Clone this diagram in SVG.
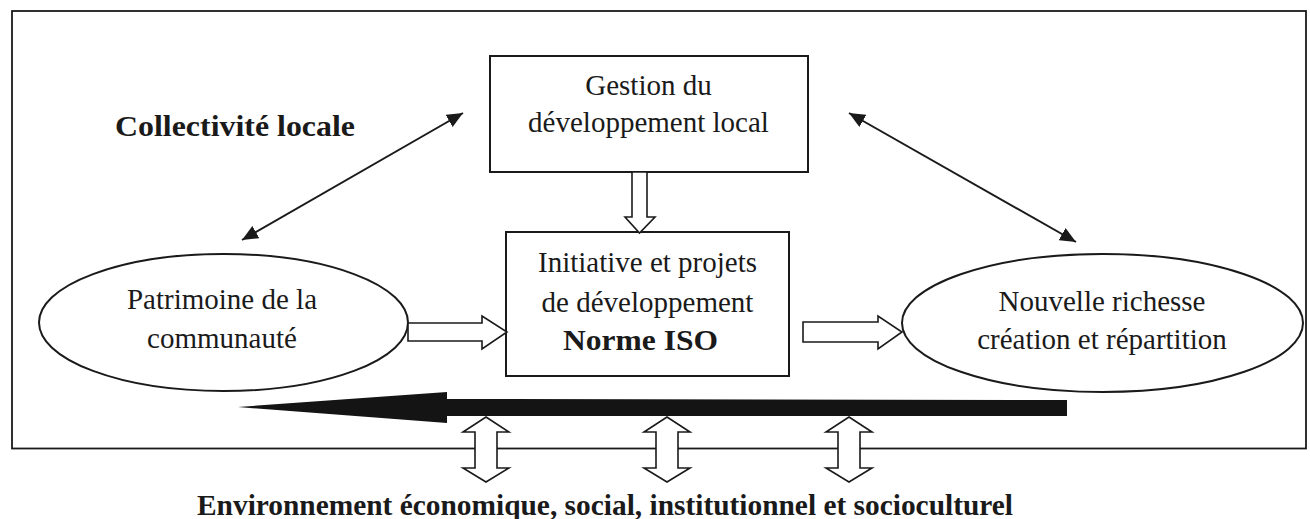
<svg xmlns="http://www.w3.org/2000/svg" width="1310" height="519" viewBox="0 0 1310 519">
<style>
  text { font-family: 'Liberation Serif', 'DejaVu Serif', serif; }
  .t { font-size: 29px; fill: #1a1a1a; text-anchor: middle; }
  .b { font-weight: bold; }
  .box { fill: #fff; stroke: #1a1a1a; stroke-width: 2; }
  .hollow { fill: #fff; stroke: #1a1a1a; stroke-width: 1.6; stroke-linejoin: miter; }
  .line { stroke: #1a1a1a; stroke-width: 2; fill: none; }
</style>
<defs>
  <marker id="tri2" viewBox="0 0 16 14" refX="16" refY="7" markerWidth="16" markerHeight="14" markerUnits="userSpaceOnUse" orient="auto-start-reverse">
    <path d="M0,0 L16,7 L0,14 z" fill="#1a1a1a"/>
  </marker>
</defs>
<rect x="0" y="0" width="1310" height="519" fill="#fff"/>
<g font-family="Liberation Serif, serif">
<g id="frame">
  <rect x="12" y="11" width="1294" height="437.5" fill="none" stroke="#1a1a1a" stroke-width="1.8"/>
  <text class="t b" x="235" y="136" font-size="34" textLength="240" lengthAdjust="spacingAndGlyphs">Collectivité locale</text>
</g>
<g id="gestion">
  <rect class="box" x="490" y="56" width="318" height="116"/>
  <text class="t" x="648.5" y="95">Gestion du</text>
  <text class="t" x="648.5" y="132">développement local</text>
</g>
<g id="initiative">
  <rect class="box" x="506" y="232" width="283" height="144"/>
  <text class="t" x="647.5" y="272">Initiative et projets</text>
  <text class="t" x="647.5" y="312">de développement</text>
  <text class="t b" x="640.5" y="350" font-size="31" textLength="155" lengthAdjust="spacingAndGlyphs">Norme ISO</text>
</g>
<g id="patrimoine">
  <ellipse class="box" cx="223.5" cy="322.5" rx="184.5" ry="68.5"/>
  <text class="t" x="222" y="309">Patrimoine de la</text>
  <text class="t" x="222" y="348">communauté</text>
</g>
<g id="richesse">
  <ellipse class="box" cx="1102.5" cy="323" rx="200.5" ry="69"/>
  <text class="t" x="1102" y="311">Nouvelle richesse</text>
  <text class="t" x="1102" y="349">création et répartition</text>
</g>
<g id="connectors">
  <line class="line" x1="242" y1="240" x2="463" y2="113" marker-start="url(#tri2)" marker-end="url(#tri2)"/>
  <line class="line" x1="849" y1="113" x2="1076" y2="242" marker-start="url(#tri2)" marker-end="url(#tri2)"/>
  <polygon class="hollow" points="632,172 647,172 647,217 655,217 639.5,233 625,217 632,217"/>
  <polygon class="hollow" points="408,323 482,323 482,316 507,332 482,349 482,341 408,341"/>
  <polygon class="hollow" points="803,322 878,322 878,316 902,332 878,349 878,342 803,342"/>
  <polygon fill="#141414" points="238,407 447,392 447,399 1067,400 1067,416 447,416 447,423"/>
  <polygon class="hollow" points="486,417 509,432 497,432 497,468 509,468 486,482 463,468 475,468 475,432 463,432"/>
  <polygon class="hollow" points="667,417 690,432 678,432 678,468 690,468 667,482 644,468 656,468 656,432 644,432"/>
  <polygon class="hollow" points="849,417 872,432 860,432 860,468 872,468 849,482 826,468 838,468 838,432 826,432"/>
</g>
<g id="environnement">
  <text class="t b" x="605" y="515" font-size="30" textLength="816" lengthAdjust="spacingAndGlyphs">Environnement économique, social, institutionnel et socioculturel</text>
</g>
</g>
</svg>
